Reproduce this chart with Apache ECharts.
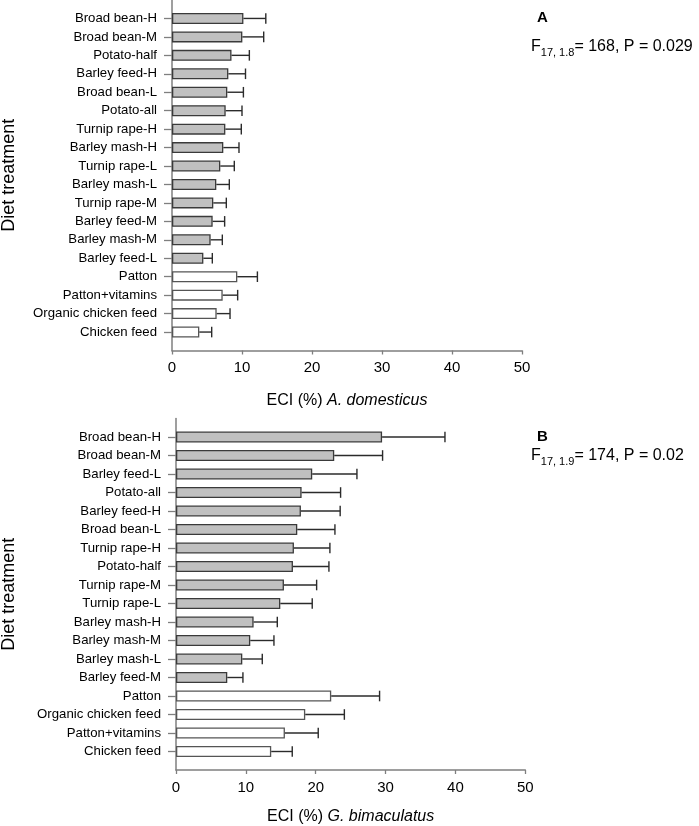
<!DOCTYPE html>
<html>
<head>
<meta charset="utf-8">
<script src="https://cdn.jsdelivr.net/npm/echarts@6/dist/echarts.min.js"></script>
<style>
html,body{margin:0;padding:0;background:#fff;}
#chart{width:699px;height:826px;}
</style>
</head>
<body>
<div id="chart"></div>
<script>
// ---- Data ----
const categoriesA = ['Broad bean-H','Broad bean-M','Potato-half','Barley feed-H','Broad bean-L','Potato-all','Turnip rape-H','Barley mash-H','Turnip rape-L','Barley mash-L','Turnip rape-M','Barley feed-M','Barley mash-M','Barley feed-L','Patton','Patton+vitamins','Organic chicken feed','Chicken feed'];
const meansA = [10.2, 10.05, 8.5, 8.05, 7.9, 7.67, 7.62, 7.33, 6.9, 6.33, 5.9, 5.81, 5.52, 4.48, 9.33, 7.24, 6.38, 3.9];
const upperA = [13.4, 13.1, 11.05, 10.5, 10.2, 10.0, 9.9, 9.57, 8.9, 8.19, 7.76, 7.52, 7.19, 5.76, 12.2, 9.38, 8.29, 5.67];

const categoriesB = ['Broad bean-H','Broad bean-M','Barley feed-L','Potato-all','Barley feed-H','Broad bean-L','Turnip rape-H','Potato-half','Turnip rape-M','Turnip rape-L','Barley mash-H','Barley mash-M','Barley mash-L','Barley feed-M','Patton','Organic chicken feed','Patton+vitamins','Chicken feed'];
const meansB = [29.5, 22.65, 19.5, 17.98, 17.88, 17.36, 16.88, 16.74, 15.45, 14.93, 11.11, 10.63, 9.49, 7.34, 22.22, 18.5, 15.59, 13.63];
const upperB = [38.5, 29.57, 25.9, 23.56, 23.5, 22.75, 22.03, 21.89, 20.13, 19.5, 14.5, 14.02, 12.35, 9.58, 29.14, 24.1, 20.36, 16.64];

const commercialFeeds = ['Patton','Patton+vitamins','Organic chicken feed','Chicken feed'];
const xTicks = [0, 10, 20, 30, 40, 50];
const statsA = {label: 'A', f: 'F', sub: '17, 1.8', rest: '= 168, P = 0.029'};
const statsB = {label: 'B', f: 'F', sub: '17, 1.9', rest: '= 174, P = 0.02'};

// ---- Build ----
const FONT = 'Liberation Sans, Arial, sans-serif';
const AXIS_COLOR = '#7f7f7f';

function padCats(c){ return [''].concat(c, ['']); }
function barData(cats, means){
  const out = ['-'];
  cats.forEach((c,i)=>{
    const com = commercialFeeds.indexOf(c) >= 0;
    out.push({value: means[i], itemStyle: {color: com ? '#ffffff' : '#c0c0c0', borderColor: com ? '#555555' : '#3a3a3a', borderWidth: 1.3}});
  });
  out.push('-');
  return out;
}
function errData(cats, means, upper){
  return cats.map((c,i)=>[means[i], c, upper[i]]);
}
function errRender(params, api){
  const y = api.value(1);
  const p0 = api.coord([api.value(0), y]);
  const p1 = api.coord([api.value(2), y]);
  const h = 5.3;
  const st = {stroke: '#2b2b2b', lineWidth: 1.4};
  return {type:'group', children:[
    {type:'line', shape:{x1:p0[0], y1:p0[1], x2:p1[0], y2:p1[1]}, style: st},
    {type:'line', shape:{x1:p1[0], y1:p1[1]-h, x2:p1[0], y2:p1[1]+h}, style: st}
  ]};
}
function yAxis(idx, cats){
  return {
    type:'category', gridIndex: idx, data: padCats(cats), inverse: true, boundaryGap: false,
    axisLine:{show:true, lineStyle:{color:AXIS_COLOR, width:1.5}},
    axisTick:{show:true, length:8, lineStyle:{color:AXIS_COLOR, width:1.3}, interval:(i, v)=> v !== '', alignWithLabel:true},
    axisLabel:{interval:(i, v)=> v !== '', margin:15, color:'#000', fontSize:13.2, fontFamily:FONT},
    splitLine:{show:false},
    name:'Diet treatment', nameLocation:'middle', nameRotate:90, nameGap: idx === 0 ? 154 : 158,
    nameTextStyle:{fontSize:18, color:'#000', fontFamily:FONT}
  };
}
function xAxis(idx, sp){
  return {
    type:'value', gridIndex: idx, min: xTicks[0], max: xTicks[xTicks.length-1], interval: xTicks[1]-xTicks[0],
    axisLine:{show:true, lineStyle:{color:AXIS_COLOR, width:1.5}},
    axisTick:{show:true, length:4, lineStyle:{color:AXIS_COLOR, width:1.3}},
    axisLabel:{margin:10, color:'#000', fontSize:15, fontFamily:FONT},
    splitLine:{show:false},
    name:'ECI (%) {i|' + sp + '}', nameLocation:'middle', nameGap: idx === 0 ? 42 : 39,
    nameTextStyle:{fontSize:16, color:'#000', fontFamily:FONT, rich:{i:{fontSize:16, fontStyle:'italic', color:'#000', fontFamily:FONT}}}
  };
}
function statText(s, x, yLab, yF){
  return [
    {type:'text', left:x+6, top:yLab, style:{text:s.label, font:'bold 15px ' + FONT, fill:'#000'}},
    {type:'text', left:x, top:yF, style:{
      text:'{a|' + s.f + '}{s|' + s.sub + '}{a|' + s.rest + '}',
      rich:{a:{fontSize:16, fontFamily:FONT, fill:'#000', verticalAlign:'bottom', lineHeight:22},
            s:{fontSize:11, fontFamily:FONT, fill:'#000', verticalAlign:'bottom', lineHeight:14, padding:[0,0,-3,0]}}
    }}
  ];
}

const chart = echarts.init(document.getElementById('chart'), null, {renderer:'canvas'});
chart.setOption({
  animation:false,
  backgroundColor:'#ffffff',
  grid:[
    {left:172, top:0, width:350, height:350.5, containLabel:false, outerBoundsMode:'none'},
    {left:176, top:418.5, width:349.3, height:351.5, containLabel:false, outerBoundsMode:'none'}
  ],
  xAxis:[xAxis(0,'A. domesticus'), xAxis(1,'G. bimaculatus')],
  yAxis:[yAxis(0, categoriesA), yAxis(1, categoriesB)],
  series:[
    {type:'bar', xAxisIndex:0, yAxisIndex:0, data:barData(categoriesA, meansA), barWidth:11},
    {type:'custom', xAxisIndex:0, yAxisIndex:0, data:errData(categoriesA, meansA, upperA), encode:{x:[0,2], y:1}, renderItem:errRender, z:3},
    {type:'bar', xAxisIndex:1, yAxisIndex:1, data:barData(categoriesB, meansB), barWidth:11},
    {type:'custom', xAxisIndex:1, yAxisIndex:1, data:errData(categoriesB, meansB, upperB), encode:{x:[0,2], y:1}, renderItem:errRender, z:3}
  ],
  graphic: statText(statsA, 531, 10, 39).concat(statText(statsB, 531, 429, 448))
});
</script>
</body>
</html>
